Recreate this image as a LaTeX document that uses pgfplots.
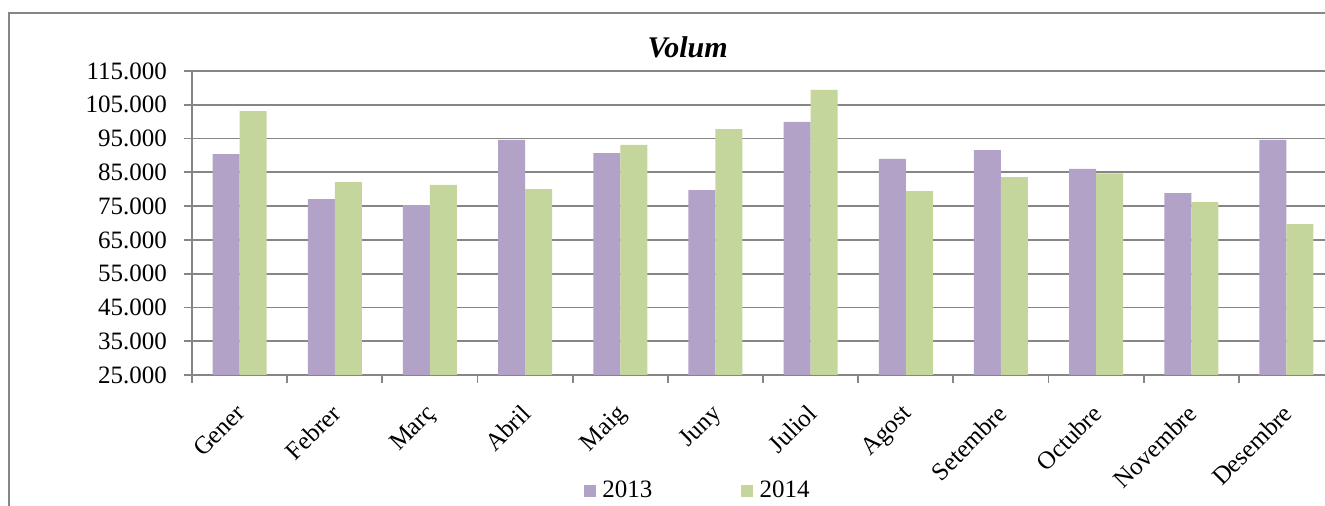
\documentclass[border=0pt]{standalone}
\usepackage{pgfplots}
\pgfplotsset{compat=1.18}
\usepackage{fontspec}
\setmainfont{Liberation Serif}
\definecolor{c13}{RGB}{178,162,199}
\definecolor{c14}{RGB}{196,214,155}
\definecolor{gridc}{RGB}{134,134,134}
\definecolor{framec}{RGB}{134,134,134}
\begin{document}
\begin{tikzpicture}[x=1pt,y=1pt]
\path[use as bounding box] (0pt,0pt) rectangle (662.5pt,253pt);
\draw[framec, line width=1pt] (4.65pt,-10pt) -- (4.65pt,246.6pt) -- (700pt,246.6pt);
\begin{axis}[
  at={(96pt,65.5pt)}, anchor=south west,
  scale only axis, width=571pt, height=152pt,
  ybar=0pt, bar width=13.5pt,
  xmin=-0.5, xmax=11.5,
  ymin=25000, ymax=115000,
  ytick={25000,35000,45000,55000,65000,75000,85000,95000,105000,115000},
  scaled y ticks=false,
  xtick={0,...,11},
  minor xtick={-0.5,0.5,...,11.5},
  major x tick style={draw=none},
  xticklabels={Gener,Febrer,Març,Abril,Maig,Juny,Juliol,Agost,Setembre,Octubre,Novembre,Desembre},
  axis x line*=bottom, axis y line*=left,
  axis line style={gridc, line width=0.9pt, -},
  tick align=outside, major tick length=4pt, minor tick length=4pt,
  every tick/.style={gridc, line width=0.9pt},
  every minor tick/.style={gridc, line width=0.9pt},
  ymajorgrids, grid style={gridc, line width=0.9pt},
  /pgf/number format/.cd, fixed, precision=0, 1000 sep={.}, assume math mode=true,
  /pgfplots/.cd,
  tick label style={font=\fontsize{12.5}{14}\selectfont},
  x tick label style={rotate=45, anchor=north east, xshift=-5.3pt, yshift=-1.8pt},
  y tick label style={xshift=-5pt},
  title={\fontsize{15}{17}\selectfont\bfseries\itshape Volum},
  title style={at={(0.434,1.0395)}, anchor=center},
  legend style={at={(0.4448,-0.3816)}, anchor=center, draw=none, fill=none,
    font=\fontsize{12.5}{14}\selectfont, legend columns=2,
    /tikz/every even column/.append style={column sep=41pt},
    nodes={inner sep=0.333em}},
  legend image code/.code={\fill[#1] (0pt,-3pt) rectangle (6pt,3pt);},
]
\addplot[fill=c13, draw=none] coordinates {(0,90400) (1,77100) (2,75300) (3,94600) (4,90700) (5,79750) (6,99900) (7,88950) (8,91600) (9,86000) (10,78850) (11,94600)};
\addplot[fill=c14, draw=none] coordinates {(0,103150) (1,82100) (2,81250) (3,80050) (4,93100) (5,97800) (6,109400) (7,79450) (8,83600) (9,84700) (10,76200) (11,69700)};
\legend{2013,2014}
\end{axis}
\end{tikzpicture}
\end{document}
